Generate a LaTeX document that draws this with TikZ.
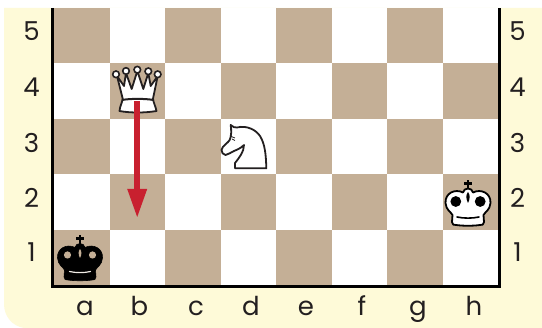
\documentclass[tikz,border=0pt]{standalone}
\usepackage{fontspec}
\usetikzlibrary{calc}
\setmainfont{Poppins}
\definecolor{cream}{HTML}{FEFAD8}
\definecolor{tan}{HTML}{C4AF96}
\definecolor{inkk}{HTML}{231F20}
\definecolor{arrowred}{HTML}{C8202F}
\tikzset{
  lbl/.style={font=\fontsize{26}{26}\selectfont,text=inkk,inner sep=0pt,anchor=base},
  sq/.style={fill=tan,draw=none},
  pieceline/.style={line width=1.8pt,line join=round,line cap=round,draw=inkk},
  kingbody/.pic={
    \path[pic actions] (0,8.5) .. controls (-3,8) and (-4,10.5) .. (-5,12.5)
      .. controls (-13,8.5) and (-23,13) .. (-22.5,23)
      .. controls (-22,30) and (-17,32) .. (-15.5,35)
      -- (-16,42) .. controls (-16,45) and (-14,45) .. (-12,45)
      .. controls (-5,46) and (5,46) .. (12,45)
      .. controls (14,45) and (16,45) .. (16,42)
      -- (15.5,35) .. controls (17,32) and (22,30) .. (22.5,23)
      .. controls (23,13) and (13,8.5) .. (5,12.5)
      .. controls (4,10.5) and (3,8) .. (0,8.5) -- cycle;
  },
  pics/whiteking/.style={code={
    \fill[black] (-1.2,0) rectangle (1.2,9);
    \fill[black] (-3.6,2.5) rectangle (3.6,4.9);
    \pic[fill=white,pieceline,draw=black] {kingbody};
    \fill[black] (-12.2,21.5) circle (5.4) (12.2,21.5) circle (5.4);
    \fill[black] (0,12) .. controls (-2.5,15) and (-2,19) .. (0,23) .. controls (2,19) and (2.5,15) .. (0,12) -- cycle;
    \draw[line width=1.6pt,line cap=round,black] (-11,37) .. controls (-4,38.5) and (4,38.5) .. (11,37);
  }},
  pics/blackking/.style={code={
    \fill[black] (-1.2,0) rectangle (1.2,9);
    \fill[black] (-3.6,2.5) rectangle (3.6,4.9);
    \pic[fill=black,draw=black,line width=.6pt] {kingbody};
    \fill[tan] (-12.5,20) circle (3.6) (12.5,20) circle (3.6);
    \fill[tan] (0,14) .. controls (-2,16) and (-1.7,20) .. (0,23) .. controls (1.7,20) and (2,16) .. (0,14) -- cycle;
    \draw[line width=1.2pt,line cap=round,white!75!tan] (-10.5,36.5) .. controls (-4,38) and (4,38) .. (10.5,36.5);
  }},
}
\begin{document}
\begin{tikzpicture}[x=1pt,y=-1pt]
\useasboundingbox (0,0) rectangle (542,328);
\fill[white] (0,0) rectangle (542,328);
% cream panel
\fill[cream] (4,8) -- (542,8) -- (542,328) -- (24,328) .. controls (12,326) and (4,316) .. (4,304) -- cycle;
% board
\fill[white] (54,8) rectangle (498,285);
\foreach \c/\r in {0/0,2/0,4/0,6/0,1/1,3/1,5/1,7/1,0/2,2/2,4/2,6/2,1/3,3/3,5/3,7/3,0/4,2/4,4/4,6/4}{
  \fill[sq] ({54+55.5*\c},{8+55.4*\r}) rectangle ++(55.5,55.4);
}
\draw[black,line width=3pt,line cap=butt] (52.5,8) -- (52.5,286.5) -- (499.5,286.5) -- (499.5,8);
% rank labels
\foreach \t/\y in {5/40.5,4/97,3/153,2/208,1/262}{
  \node[lbl] (l\t) at (31.5,\y) {\t};
  \node[lbl] (r\t) at (517.5,\y) {\t};
}
\foreach \t/\x in {a/85,b/139.5,c/196,d/251,e/306,f/362,g/418,h/474}{
  \node[lbl] (f\t) at (\x,316) {\t};
}
% white queen
\path[fill=white,pieceline] (117,76) -- (122.7,98.7)
    .. controls (122,103) and (120,106) .. (119.5,111)
    .. controls (130,113) and (145,113) .. (156.5,111)
    .. controls (155.5,106) and (153.5,103) .. (153,98.7)
    -- (157.7,76) -- (150.7,86) -- (148.3,73) -- (143.3,89) -- (137.3,71) -- (131.7,89) -- (126,73) -- (124,86) -- cycle;
\draw[line width=2pt,inkk] (122,100) .. controls (130,98.5) and (145,98.5) .. (153.5,100);
\foreach \x/\y in {116/74.3,126/71,137.3/69.7,148.3/71.3,157.7/74.3}{
  \path[fill=white,draw=inkk,line width=1.6pt] (\x,\y) circle (3.3);
}
% arrow
\coordinate (from) at (137.2,101);
\coordinate (to) at (137.2,217);
\fill[arrowred] ($(from)+(-2.8,0)$) rectangle ($(to)+(2.8,-27)$);
\fill[arrowred] ($(to)+(-10,-28)$) -- ($(to)+(10,-28)$) -- (to) -- cycle;
% knight
\path[fill=white,pieceline] (230.7,125) .. controls (233,127) and (235,128) .. (237,127.5)
  .. controls (247,125) and (256,130) .. (260,136)
  .. controls (265,144) and (266,155) .. (266.3,168.3)
  -- (235,168.3) -- (235,163)
  .. controls (239,158) and (244,152) .. (244,145)
  .. controls (240,149) and (236,150) .. (234,151)
  .. controls (231,153) and (228,154) .. (225.5,155)
  .. controls (223,155) and (221.5,152) .. (221.5,150)
  .. controls (222,146) and (228,143) .. (229.7,140)
  .. controls (231.5,136) and (231.5,130) .. (230.7,125) -- cycle;
\draw[line width=.8pt,inkk] (230,136) -- (235,138) (232,139) -- (235,140.5);
% kings
\pic at (468,180) {whiteking};
\pic at (80,235) {blackking};
\end{tikzpicture}
\end{document}
